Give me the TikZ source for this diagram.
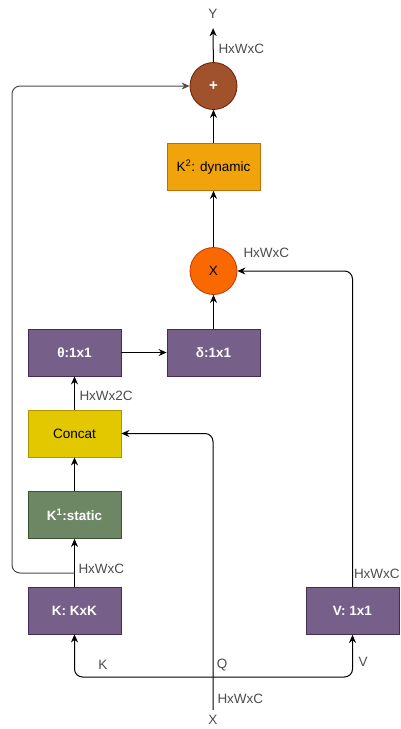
\documentclass[tikz,border=0pt]{standalone}
\usepackage{fontspec}
\setmainfont{Liberation Sans}
\usetikzlibrary{arrows.meta}
\definecolor{convfill}{HTML}{76608A}
\definecolor{convline}{HTML}{432D57}
\definecolor{statfill}{HTML}{6D8764}
\definecolor{statline}{HTML}{3A5431}
\definecolor{catfill}{HTML}{E3C800}
\definecolor{catline}{HTML}{B09500}
\definecolor{dynfill}{HTML}{F0A30A}
\definecolor{dynline}{HTML}{BD7000}
\definecolor{mulfill}{HTML}{FA6800}
\definecolor{mulline}{HTML}{C73500}
\definecolor{addfill}{HTML}{A0522D}
\definecolor{addline}{HTML}{6D1F00}

\begin{document}
\begin{tikzpicture}[x=1pt, y=-1pt, line width=1pt,
    every node/.style={font=\fontsize{13.5}{16}\selectfont},
    >={Stealth[length=8pt, width=7pt]},
    blk/.style={draw, line width=0.8pt, minimum width=93pt, minimum height=47pt, inner sep=0pt},
    conv/.style={blk, fill=convfill, draw=convline, text=white, font=\fontsize{13.5}{16}\selectfont\bfseries},
    op/.style={circle, line width=0.8pt, minimum size=47pt, inner sep=0pt},
    dimlbl/.style={text=black!70, anchor=west, inner sep=0pt},
    io/.style={text=black!70, inner sep=0pt}]
    \useasboundingbox (0,0) rectangle (400,729);
    % blocks
    \node[op, fill=addfill, draw=addline, text=white, font=\fontsize{15}{16}\selectfont\bfseries] (add) at (213.5,86) {+};
    \node[blk, fill=dynfill, draw=dynline] (dyn) at (213.5,167) {K\textsuperscript{2}: dynamic};
    \node[op, fill=mulfill, draw=mulline] (mul) at (213.5,271) {X};
    \node[conv] (theta) at (74.5,352.5) {θ:1x1};
    \node[conv] (delta) at (213.5,352.5) {δ:1x1};
    \node[blk, fill=catfill, draw=catline] (cat) at (74.5,433.5) {Concat};
    \node[blk, fill=statfill, draw=statline, text=white, font=\fontsize{13.5}{16}\selectfont\bfseries] (stat) at (74.5,515) {K\textsuperscript{1}:static};
    \node[conv] (kxk) at (74.5,610.5) {K: KxK};
    \node[conv] (val) at (352.5,611) {V: 1x1};
    % input / output
    \node[io, inner ysep=9pt] (out) at (213,14) {Y};
    \node[io, inner ysep=5pt] (in) at (213,720) {X};
    \coordinate (split) at (213,677);
    \coordinate (branch) at (74.5,573);
    \coordinate (skipL) at (12,573);
    % connectors
    \draw[->] (add) -- (out);
    \draw[->] (dyn) -- (add);
    \draw[->] (mul) -- (dyn);
    \draw[->] (delta) -- (mul);
    \draw[->] (theta) -- (delta);
    \draw[->] (cat) -- (theta);
    \draw[->] (stat) -- (cat);
    \draw[->] (kxk) -- (stat);
    \draw[->, rounded corners=8pt] (in) |- (cat.east);
    \draw[->, rounded corners=8pt] (split) -| (kxk.south);
    \draw[->, rounded corners=8pt] (split) -| (val.south);
    \draw[->, rounded corners=8pt] (val.north) |- (mul.east);
    \draw[->, black!70, rounded corners=8pt] (branch) -- (skipL) |- (add.west);
    % labels
    \node[dimlbl] at (218,49) {HxWxC};
    \node[dimlbl] at (243,253) {HxWxC};
    \node[dimlbl] at (79,396) {HxWx2C};
    \node[dimlbl] at (78,569) {HxWxC};
    \node[dimlbl] at (353.5,574) {HxWxC};
    \node[dimlbl] at (217,699) {HxWxC};
    \node[io] at (103,665) {K};
    \node[io] at (222,665) {Q};
    \node[io] at (363,662) {V};
\end{tikzpicture}
\end{document}
